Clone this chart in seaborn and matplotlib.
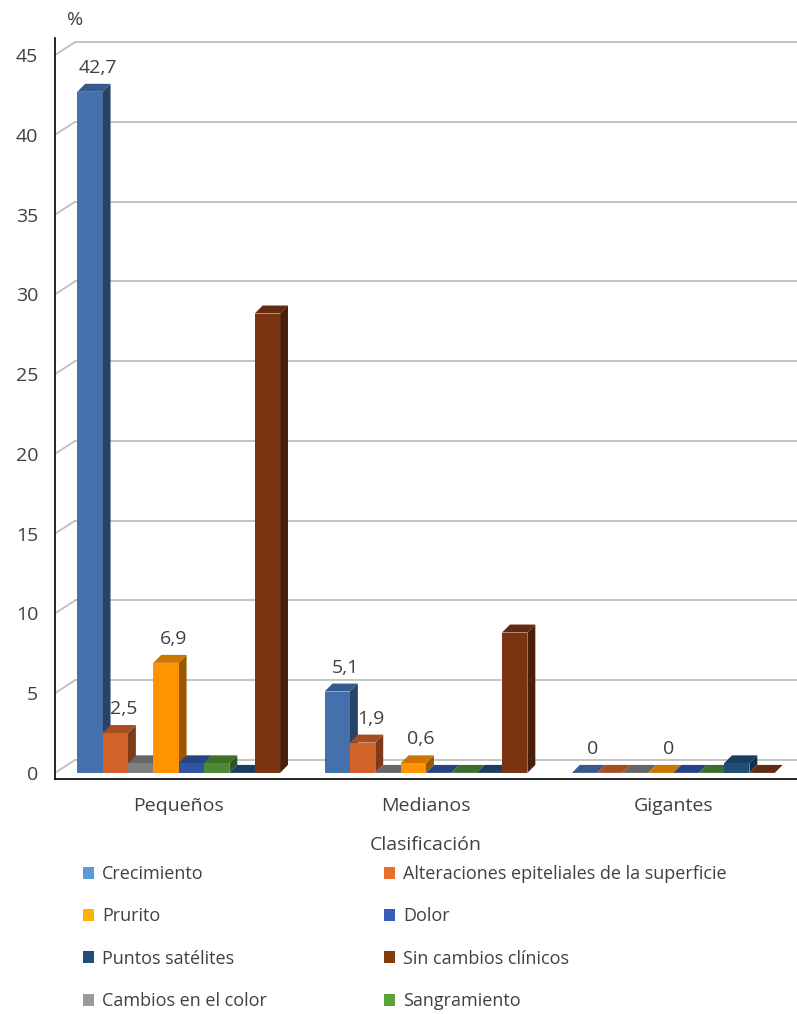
import matplotlib.pyplot as plt
import matplotlib.colors as mcolors
from matplotlib.patches import Polygon
import seaborn as sns
import pandas as pd

categorias = ["Pequeños", "Medianos", "Gigantes"]
series = ["Crecimiento", "Alteraciones epiteliales de la superficie",
          "Cambios en el color", "Prurito", "Dolor", "Sangramiento",
          "Puntos satélites", "Sin cambios clínicos"]
crecimiento = [42.7, 5.1, 0]
alteraciones = [2.5, 1.9, 0]
cambios_color = [0.6, 0, 0]
prurito = [6.9, 0.6, 0]
dolor = [0.6, 0, 0]
sangramiento = [0.6, 0, 0]
puntos_satelites = [0, 0, 0.6]
sin_cambios = [28.8, 8.8, 0]

# data labels shown in the original (empty = no label)
etiquetas = {
    "Crecimiento": ["42,7", "5,1", "0"],
    "Alteraciones epiteliales de la superficie": ["2,5", "1,9", ""],
    "Prurito": ["6,9", "0,6", "0"],
}

bar_colors = ["#4470AB", "#D0622A", "#7F7F7F", "#FF9300",
              "#2E55A2", "#4E8A35", "#1F4E79", "#7A3411"]
legend_colors = ["#5B9BD5", "#E8702E", "#9A9A9A", "#FFB000",
                 "#3A5EB8", "#5AA33A", "#1F4E79", "#843C0C"]
text_color = "#404040"


def build_df():
    valores = [crecimiento, alteraciones, cambios_color, prurito,
               dolor, sangramiento, puntos_satelites, sin_cambios]
    rows = []
    for s, vals in zip(series, valores):
        for c, v in zip(categorias, vals):
            rows.append({"Clasificación": c, "serie": s, "valor": v})
    return pd.DataFrame(rows)


def shade(color, f):
    r, g, b = mcolors.to_rgb(color)
    return (r * f, g * f, b * f)


def main():
    sns.set_style("white")
    plt.rcParams["font.family"] = ["Open Sans", "DejaVu Sans"]
    plt.rcParams["text.color"] = text_color
    plt.rcParams["axes.labelcolor"] = text_color
    plt.rcParams["xtick.color"] = text_color
    plt.rcParams["ytick.color"] = text_color

    fig = plt.figure(figsize=(7.97, 10.14), dpi=100)
    ax = fig.add_axes([55 / 797, 0.2318, 1 - 55 / 797, 0.9625 - 0.2318])

    df = build_df()
    sns.barplot(data=df, x="Clasificación", y="valor", hue="serie",
                order=categorias, hue_order=series, palette=bar_colors,
                width=0.82, gap=0, saturation=1, errorbar=None, ax=ax)

    ax.set_xlim(-0.5, 2.5)
    ax.set_ylim(-0.38, 46.07)

    # fake 3D depth for the bars
    dx, dy = 0.032, 0.5
    for k, cont in enumerate(ax.containers):
        col = bar_colors[k]
        for j, rect in enumerate(cont):
            rect.set_zorder(3 + k)
            rect.set_edgecolor("none")
            x0 = rect.get_x()
            w = rect.get_width()
            h = rect.get_height()
            side = Polygon([(x0 + w, 0), (x0 + w + dx, dy), (x0 + w + dx, h + dy), (x0 + w, h)],
                           closed=True, facecolor=shade(col, 0.6), edgecolor="none",
                           zorder=2.5 + k)
            top = Polygon([(x0, h), (x0 + dx, h + dy), (x0 + w + dx, h + dy), (x0 + w, h)],
                          closed=True, facecolor=shade(col, 0.8), edgecolor="none",
                          zorder=2.5 + k)
            ax.add_patch(side)
            ax.add_patch(top)
            lab = etiquetas.get(series[k])
            if lab and lab[j]:
                ax.annotate(lab[j], (x0 + w / 2 + dx, h + dy), xytext=(0, 5),
                            textcoords="offset points", ha="center", va="bottom",
                            fontsize=14, color=text_color, zorder=20)

    # back wall gridlines
    gdx, gdy = 0.081, 0.81
    grid_col = "#BFBFBF"
    for t in range(0, 50, 5):
        ax.plot([-0.5, -0.5 + gdx], [t, t + gdy], color=grid_col, lw=1.3,
                zorder=1, clip_on=False)
        ax.plot([-0.5 + gdx, 2.5], [t + gdy, t + gdy], color=grid_col, lw=1.3,
                zorder=1, clip_on=False)

    sns.despine(ax=ax, top=True, right=True)
    for sp in ["left", "bottom"]:
        ax.spines[sp].set_color("black")
        ax.spines[sp].set_linewidth(1.2)

    ax.set_yticks(range(0, 50, 5))
    ax.tick_params(axis="y", length=0, pad=12, labelsize=14)
    ax.set_xticks([-0.5, 0.5, 1.5, 2.5], minor=True)
    ax.tick_params(axis="x", which="major", length=0, pad=13, labelsize=14)
    ax.tick_params(axis="x", which="minor", length=10, width=1.2, color="black")
    ax.set_ylabel("")
    ax.set_xlabel("Clasificación", fontsize=14, labelpad=15)

    fig.text(75 / 797, 1 - 20 / 1014, "%", ha="center", va="center", fontsize=14)

    handles, labels = ax.get_legend_handles_labels()
    ax.get_legend().remove()
    cols = [[0, 3, 6, 2], [1, 4, 7, 5]]
    xs = [83 / 797, 384 / 797]
    for idx, x in zip(cols, xs):
        leg = fig.legend([handles[i] for i in idx], [labels[i] for i in idx],
                         loc="upper left", bbox_to_anchor=(x, 1 - 865 / 1014),
                         frameon=False, fontsize=13, borderpad=0, borderaxespad=0,
                         handlelength=0.6, handleheight=0.65, handletextpad=0.45,
                         labelspacing=1.35)
        for hnd, i in zip(leg.legend_handles, idx):
            hnd.set_facecolor(legend_colors[i])
            hnd.set_edgecolor("none")

    plt.savefig("out.png", dpi=100)


main()
